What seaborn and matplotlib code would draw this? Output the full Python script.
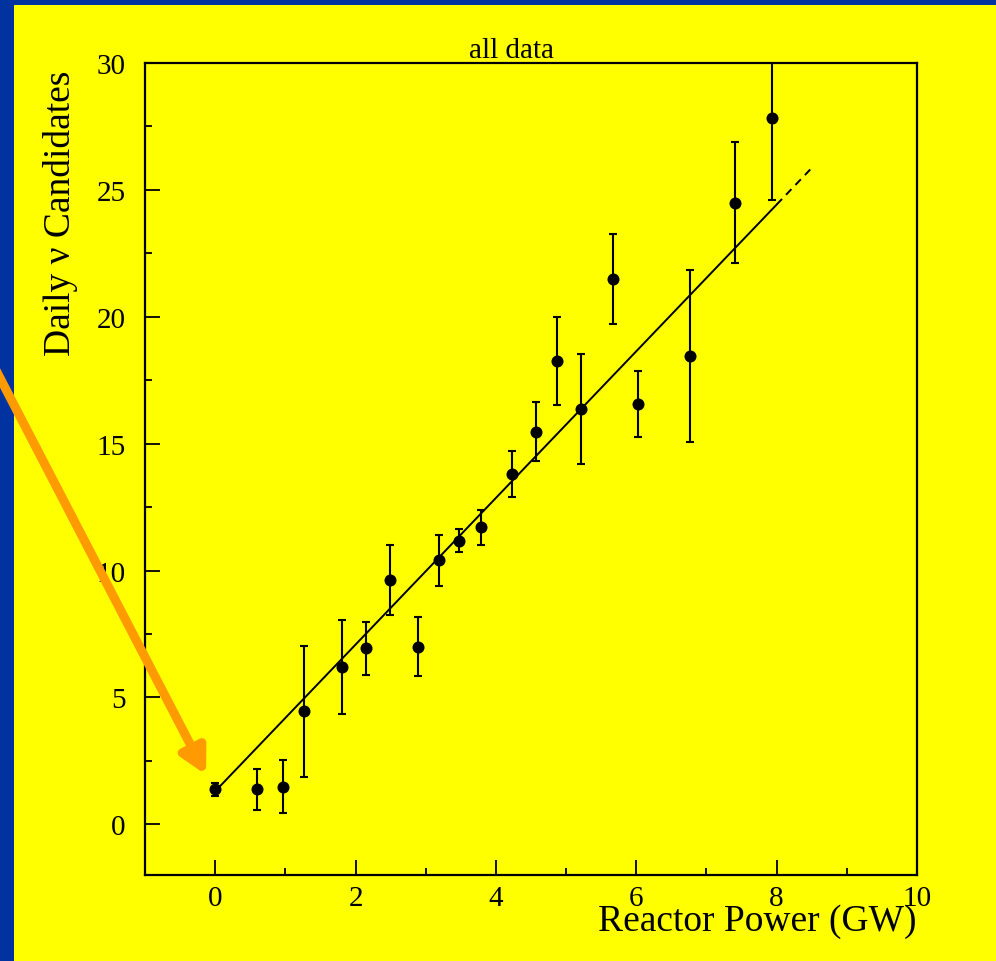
import numpy as np
import pandas as pd
import matplotlib
matplotlib.use("Agg")
import matplotlib.pyplot as plt
import seaborn as sns

# Daily neutrino candidates versus total reactor power
power = [0.00, 0.59, 0.97, 1.26, 1.81, 2.15, 2.49, 2.89, 3.19, 3.47, 3.79,
         4.23, 4.57, 4.87, 5.21, 5.67, 6.03, 6.77, 7.40, 7.93]
candidates = [1.38, 1.38, 1.48, 4.45, 6.20, 6.93, 9.62, 7.00, 10.40, 11.18, 11.70,
              13.80, 15.47, 18.27, 16.38, 21.50, 16.57, 18.46, 24.49, 27.85]
errors = [0.25, 0.80, 1.05, 2.57, 1.86, 1.05, 1.38, 1.15, 1.00, 0.45, 0.70,
          0.90, 1.16, 1.73, 2.17, 1.78, 1.30, 3.40, 2.39, 3.25]

# Linear fit: candidates = intercept + slope * power
fit_intercept = 1.30
fit_slope = 2.89
fit_range = [0.0, 8.0]
extrap_range = [8.0, 8.5]

x_ticks = [0, 2, 4, 6, 8, 10]
x_minor = [1, 3, 5, 7, 9]
y_ticks = [0, 5, 10, 15, 20, 25, 30]
y_minor = [2.5, 7.5, 12.5, 17.5, 22.5, 27.5]

YELLOW = "#FFFF00"
BLUE = "#0033A0"
ORANGE = "#FF9A00"

sns.set_style("ticks")
plt.rcParams["font.family"] = ["Liberation Serif", "DejaVu Serif"]
plt.rcParams["text.color"] = "black"
plt.rcParams["axes.labelcolor"] = "black"
plt.rcParams["xtick.color"] = "black"
plt.rcParams["ytick.color"] = "black"

W, H = 996, 962
fig = plt.figure(figsize=(W / 100, H / 100), dpi=100)
fig.patch.set_facecolor(BLUE)

# yellow slide panel behind the plot
bg = fig.add_axes([14 / W, 0, 1 - 14 / W, 1 - 6 / H], zorder=0)
bg.set_facecolor(YELLOW)
bg.set_xticks([])
bg.set_yticks([])
for s in bg.spines.values():
    s.set_visible(False)

ax = fig.add_axes([145 / W, 1 - 876 / H, 772 / W, 812 / H], zorder=1)
ax.set_facecolor(YELLOW)

df = pd.DataFrame({"power": power, "candidates": candidates, "err": errors})

ax.errorbar(df["power"], df["candidates"], yerr=df["err"], fmt="none",
            ecolor="black", elinewidth=1.5, capsize=3.2, capthick=1.5, zorder=3)
sns.scatterplot(data=df, x="power", y="candidates", ax=ax, color="black",
                s=75, edgecolor="black", linewidth=0, zorder=4, legend=False)

fit_df = pd.DataFrame({"x": fit_range,
                       "y": [fit_intercept + fit_slope * v for v in fit_range]})
ext_df = pd.DataFrame({"x": extrap_range,
                       "y": [fit_intercept + fit_slope * v for v in extrap_range]})
sns.lineplot(data=fit_df, x="x", y="y", ax=ax, color="black", linewidth=1.4, zorder=2)
sns.lineplot(data=ext_df, x="x", y="y", ax=ax, color="black", linewidth=1.4,
             linestyle=(0, (4, 3)), zorder=2)

ax.set_xticks(x_ticks)
ax.set_yticks(y_ticks)
ax.set_xticks(x_minor, minor=True)
ax.set_yticks(y_minor, minor=True)
ax.set_xlim(-1, 10)
ax.set_ylim(-2, 30)
ax.tick_params(which="both", direction="in", top=False, right=False, width=1.3)
ax.tick_params(which="major", length=11, labelsize=21)
ax.tick_params(which="minor", length=5)
ax.tick_params(axis="y", which="major", pad=14)
ax.tick_params(axis="x", which="major", pad=7)
for s in ax.spines.values():
    s.set_linewidth(1.6)
    s.set_color("black")

ax.set_xlabel("")
ax.set_ylabel("")
ax.set_title("all data", fontsize=21, x=(511 - 145) / 772, pad=1)

fig.text(916 / W, 1 - 922 / H, "Reactor Power (GW)", ha="right", va="center",
         fontsize=27, zorder=3)
fig.text(61 / W, 1 - 213 / H, "Daily \u03bd Candidates", ha="center", va="center",
         rotation=90, fontsize=27, zorder=3)

# Pointer towards the zero-power measurement
ax.annotate("", xy=(-0.13, 1.95), xytext=(-3.2, 18.3),
            xycoords="data", textcoords="data", annotation_clip=False,
            arrowprops=dict(arrowstyle="-|>,head_length=1.5,head_width=0.8",
                            color=ORANGE, lw=6.5, shrinkA=0, shrinkB=0),
            zorder=5)

fig.savefig("out.png", dpi=100, facecolor=fig.get_facecolor())
